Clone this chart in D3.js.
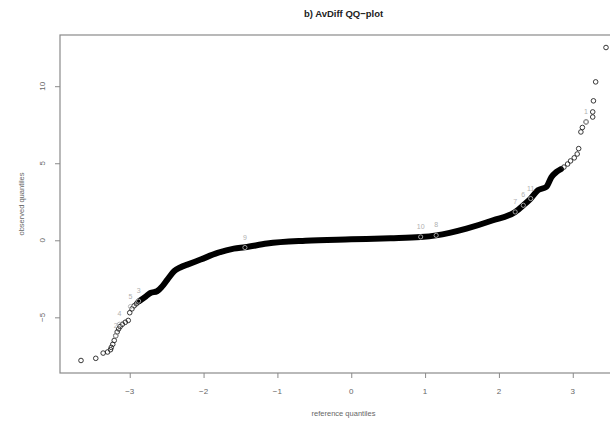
<!DOCTYPE html>
<html>
<head>
<meta charset="utf-8">
<script src="https://cdn.jsdelivr.net/npm/d3@7"></script>
<style>
  body { margin: 0; background: #fff; }
  svg { display: block; font-family: "Liberation Sans", Arial, sans-serif; }
</style>
</head>
<body>
<svg id="qq" width="610" height="422"></svg>
<script>
// dense middle part of the QQ curve (points overlap into a solid band)
var bandX = [-2.88, -2.78, -2.72, -2.63, -2.56, -2.49, -2.40, -2.31, -2.22, -2.04, -1.81, -1.59, -1.44, -1.14, -0.62, 0, 0.53, 0.94, 1.15, 1.56, 1.92, 2.22, 2.33, 2.43, 2.53, 2.64, 2.71, 2.78, 2.84];
var bandY = [-3.98, -3.64, -3.42, -3.31, -2.99, -2.55, -2.01, -1.75, -1.58, -1.25, -0.82, -0.54, -0.45, -0.21, -0.03, 0.06, 0.13, 0.21, 0.32, 0.76, 1.30, 1.84, 2.27, 2.71, 3.25, 3.46, 4.09, 4.44, 4.62];

// sparse tail points
var tailX = [-3.66, -3.46, -3.36, -3.30, -3.26, -3.25, -3.23, -3.21, -3.19, -3.17, -3.15, -3.13, -3.10, -3.06, -3.02, -3.00, -2.97, -2.94, -2.91,
             2.88, 2.93, 2.97, 3.02, 3.06, 3.08, 3.11, 3.13, 3.18, 3.27, 3.27, 3.28, 3.31, 3.45];
var tailY = [-7.80, -7.66, -7.32, -7.25, -7.10, -6.95, -6.75, -6.50, -6.20, -5.95, -5.75, -5.60, -5.45, -5.32, -5.20, -4.70, -4.45, -4.25, -4.12,
             4.75, 4.95, 5.15, 5.35, 5.60, 5.95, 7.03, 7.32, 7.68, 8.00, 8.33, 9.05, 10.28, 12.51];

// labelled points
var labelNames = ["1", "2", "3", "4", "5", "6", "7", "8", "9", "10", "11"];
var labelX = [3.18, -3.19, -2.88, -3.14, -2.99, 2.33, 2.22, 1.15, -1.44, 0.94, 2.43];
var labelY = [7.68, -6.20, -3.95, -5.45, -4.30, 2.27, 1.84, 0.32, -0.47, 0.22, 2.71];

var xTicks = [-3, -2, -1, 0, 1, 2, 3];
var yTicks = [-5, 0, 5, 10];

var margin = {top: 35, right: -17, bottom: 49, left: 60}
  , width = 610 - margin.left - margin.right
  , height = 422 - margin.top - margin.bottom;

var svg = d3.select("svg#qq");
var g = svg.append("g")
    .attr("transform", "translate(" + margin.left + "," + margin.top + ")");

// R style 4% padding on the data range
function pad(ext) { var d = (ext[1] - ext[0]) * 0.04; return [ext[0] - d, ext[1] + d]; }
var allX = tailX.concat(bandX), allY = tailY.concat(bandY);

var xScale = d3.scaleLinear().domain(pad(d3.extent(allX))).range([0, width]);
var yScale = d3.scaleLinear().domain(pad(d3.extent(allY))).range([height, 0]);

// plot box
g.append("rect")
    .attr("width", width).attr("height", height)
    .attr("fill", "none").attr("stroke", "#8a8a8a").attr("stroke-width", 1.2);

// axes (labels are drawn by hand so the y ones sit parallel to the axis like in R)
var xAxis = g.append("g").attr("transform", "translate(0," + height + ")")
    .call(d3.axisBottom(xScale).tickValues(xTicks).tickSize(5).tickFormat(""));
var yAxis = g.append("g")
    .call(d3.axisLeft(yScale).tickValues(yTicks).tickSize(5).tickFormat(""));
[xAxis, yAxis].forEach(function(a) {
  a.select(".domain").remove();
  a.selectAll("line").attr("stroke", "#8a8a8a");
});

g.selectAll(".xlab").data(xTicks).enter().append("text")
    .attr("x", function(d) { return xScale(d); })
    .attr("y", height + 21)
    .attr("text-anchor", "middle")
    .attr("font-size", 8).attr("fill", "#666")
    .text(function(d) { return d < 0 ? "\u2212" + (-d) : d; });

g.selectAll(".ylab").data(yTicks).enter().append("text")
    .attr("transform", function(d) { return "translate(-15," + yScale(d) + ") rotate(-90)"; })
    .attr("text-anchor", "middle")
    .attr("font-size", 8).attr("fill", "#666")
    .text(function(d) { return d < 0 ? "\u2212" + (-d) : d; });

// the dense band
var line = d3.line()
    .x(function(d) { return xScale(d[0]); })
    .y(function(d) { return yScale(d[1]); })
    .curve(d3.curveMonotoneX);
g.append("path")
    .datum(d3.zip(bandX, bandY))
    .attr("fill", "none")
    .attr("stroke", "#000")
    .attr("stroke-width", 6)
    .attr("stroke-linecap", "round")
    .attr("stroke-linejoin", "round")
    .attr("d", line);

// tail circles
g.selectAll(".pt").data(d3.zip(tailX, tailY)).enter().append("circle")
    .attr("cx", function(d) { return xScale(d[0]); })
    .attr("cy", function(d) { return yScale(d[1]); })
    .attr("r", 2.3)
    .attr("fill", "none").attr("stroke", "#222").attr("stroke-width", 0.9);

// labelled points in grey
var lab = d3.zip(labelNames, labelX, labelY);
g.selectAll(".lp").data(lab).enter().append("circle")
    .attr("cx", function(d) { return xScale(d[1]); })
    .attr("cy", function(d) { return yScale(d[2]); })
    .attr("r", 2.1)
    .attr("fill", "none").attr("stroke", "#b0b0b0").attr("stroke-width", 0.9);
g.selectAll(".lt").data(lab).enter().append("text")
    .attr("x", function(d) { return xScale(d[1]); })
    .attr("y", function(d) { return yScale(d[2]) - 8; })
    .attr("text-anchor", "middle")
    .attr("font-size", 7).attr("fill", "#b0b0b0")
    .text(function(d) { return d[0]; });

// titles
svg.append("text")
    .attr("x", margin.left + width / 2).attr("y", 17)
    .attr("text-anchor", "middle")
    .attr("font-size", 9.5).attr("font-weight", "bold").attr("fill", "#222")
    .text("b) AvDiff QQ\u2212plot");

svg.append("text")
    .attr("x", margin.left + width / 2).attr("y", 416)
    .attr("text-anchor", "middle")
    .attr("font-size", 7.5).attr("fill", "#666")
    .text("reference quantiles");

svg.append("text")
    .attr("transform", "translate(24," + (margin.top + height / 2) + ") rotate(-90)")
    .attr("text-anchor", "middle")
    .attr("font-size", 7.5).attr("fill", "#666")
    .text("observed quantiles");
</script>
</body>
</html>
